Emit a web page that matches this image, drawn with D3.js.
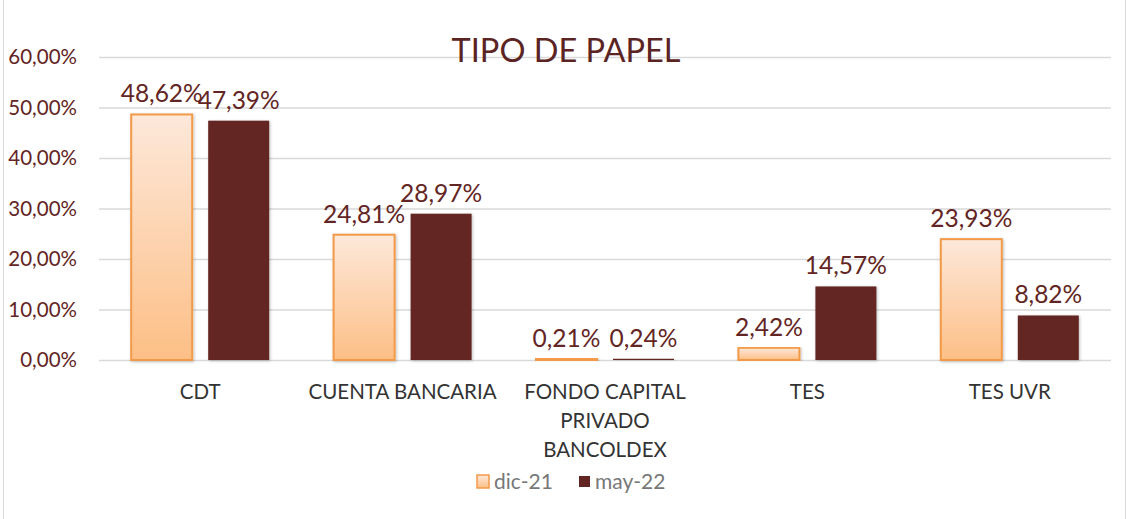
<!DOCTYPE html>
<html>
<head>
<meta charset="utf-8">
<script src="https://cdn.jsdelivr.net/npm/d3@7"></script>
<style>
  body { margin: 0; background: #fff; }
  svg { display: block; font-family: Lato, "Open Sans", sans-serif; }
</style>
</head>
<body>
<svg id="chart" width="1129" height="519"></svg>
<script>
// chart data
const categories = ['CDT', 'CUENTA BANCARIA', 'FONDO CAPITAL PRIVADO BANCOLDEX', 'TES', 'TES UVR'];
const categoryLines = [['CDT'], ['CUENTA BANCARIA'], ['FONDO CAPITAL', 'PRIVADO', 'BANCOLDEX'], ['TES'], ['TES UVR']];
const seriesNames = ['dic-21', 'may-22'];
const dic21 = [48.62, 24.81, 0.21, 2.42, 23.93];
const may22 = [47.39, 28.97, 0.24, 14.57, 8.82];
const yTicks = [0, 10, 20, 30, 40, 50, 60];

const svg = d3.select('#chart');
const W = 1129, H = 519;
const margin = { top: 57, right: 18, bottom: 159, left: 99 };
const innerW = W - margin.left - margin.right;
const innerH = H - margin.top - margin.bottom;

const labelColor = '#632523';

// gradient for light series
const defs = svg.append('defs');
const grad = defs.append('linearGradient')
  .attr('id', 'lightGrad')
  .attr('x1', 0).attr('y1', 0).attr('x2', 0).attr('y2', 1);
grad.append('stop').attr('offset', '0%').attr('stop-color', '#fde8da');
grad.append('stop').attr('offset', '100%').attr('stop-color', '#fdbf86');

const shadow = defs.append('filter').attr('id', 'shadow')
  .attr('x', '-20%').attr('y', '-5%').attr('width', '140%').attr('height', '110%');
shadow.append('feDropShadow')
  .attr('dx', 1).attr('dy', 1).attr('stdDeviation', 1.5)
  .attr('flood-color', '#000').attr('flood-opacity', 0.25);

// outer border
svg.append('rect')
  .attr('x', 3.5).attr('y', -2).attr('width', W - 7).attr('height', H + 4)
  .attr('fill', 'none').attr('stroke', '#d9d9d9');

const g = svg.append('g').attr('transform', `translate(${margin.left},${margin.top})`);

const x = d3.scaleBand().domain(categories).range([0, innerW]).padding(0);
const y = d3.scaleLinear().domain([0, 60]).range([innerH, 0]);

// gridlines
g.append('g')
  .selectAll('line')
  .data(yTicks)
  .join('line')
  .attr('x1', 0).attr('x2', innerW)
  .attr('y1', d => y(d) + 0.5).attr('y2', d => y(d) + 0.5)
  .attr('stroke', '#d9d9d9').attr('stroke-width', 1.5);

// y axis labels
g.append('g')
  .selectAll('text')
  .data(yTicks)
  .join('text')
  .attr('x', -22)
  .attr('y', d => y(d))
  .attr('dy', '0.35em')
  .attr('text-anchor', 'end')
  .attr('fill', labelColor)
  .style('font-size', '20.5px')
  .text(d => d3.format('.2f')(d).replace('.', ',') + '%');

// bar sub-layout: two bars of barW with barGap between, centred in band
const barW = 61, barGap = 16;
const sub = d3.scaleBand()
  .domain(seriesNames)
  .range([x.bandwidth() / 2 - barW - barGap / 2, x.bandwidth() / 2 + barW + barGap / 2])
  .paddingInner(barGap / (barW + barGap))
  .paddingOuter(0);

const rows = categories.map((c, i) => ({ cat: c, values: [dic21[i], may22[i]] }));

const groups = g.selectAll('.grp')
  .data(rows)
  .join('g')
  .attr('class', 'grp')
  .attr('transform', d => `translate(${x(d.cat)},0)`);

groups.selectAll('rect')
  .data(d => d.values.map((v, k) => ({ key: seriesNames[k], v })))
  .join('rect')
  .attr('x', d => sub(d.key))
  .attr('width', sub.bandwidth())
  .attr('y', d => y(d.v))
  .attr('height', d => innerH - y(d.v))
  .attr('fill', d => d.key === 'dic-21' ? 'url(#lightGrad)' : '#632523')
  .attr('stroke', d => d.key === 'dic-21' ? '#f39a48' : 'none')
  .attr('stroke-width', 2)
  .attr('filter', 'url(#shadow)');

// value labels
groups.selectAll('text.val')
  .data(d => d.values.map((v, k) => ({ key: seriesNames[k], v })))
  .join('text')
  .attr('class', 'val')
  .attr('x', d => sub(d.key) + sub.bandwidth() / 2)
  .attr('y', d => y(d.v) - 12)
  .attr('text-anchor', 'middle')
  .attr('fill', labelColor)
  .style('font-size', '24.5px')
  .text(d => d3.format('.2f')(d.v).replace('.', ',') + '%');

// category labels
groups.each(function (d, i) {
  const t = d3.select(this).append('text')
    .attr('x', x.bandwidth() / 2)
    .attr('y', innerH + 39)
    .attr('text-anchor', 'middle')
    .attr('fill', '#333')
    .style('font-size', '20.5px');
  categoryLines[i].forEach((line, j) => {
    t.append('tspan')
      .attr('x', x.bandwidth() / 2)
      .attr('dy', j === 0 ? 0 : 29)
      .text(line);
  });
});

// title
svg.append('text')
  .attr('x', 566).attr('y', 62)
  .attr('text-anchor', 'middle')
  .attr('fill', '#5b2423')
  .style('font-size', '32.5px')
  .text('TIPO DE PAPEL');

// legend
const legend = svg.append('g').attr('transform', 'translate(476,482)');
const legendItems = [
  { name: 'dic-21', x: 0 },
  { name: 'may-22', x: 101 }
];
legendItems.forEach(item => {
  const lg = legend.append('g').attr('transform', `translate(${item.x},0)`);
  lg.append('rect')
    .attr('x', item.name === 'dic-21' ? 1 : 2).attr('y', item.name === 'dic-21' ? -7 : -6)
    .attr('width', item.name === 'dic-21' ? 12 : 11).attr('height', item.name === 'dic-21' ? 13 : 11)
    .attr('fill', item.name === 'dic-21' ? 'url(#lightGrad)' : '#632523')
    .attr('stroke', item.name === 'dic-21' ? '#f39a48' : 'none')
    .attr('stroke-width', 1.5);
  lg.append('text')
    .attr('x', 18).attr('y', 0).attr('dy', '0.35em')
    .attr('fill', '#777')
    .style('font-size', '21px')
    .text(item.name);
});
</script>
</body>
</html>
